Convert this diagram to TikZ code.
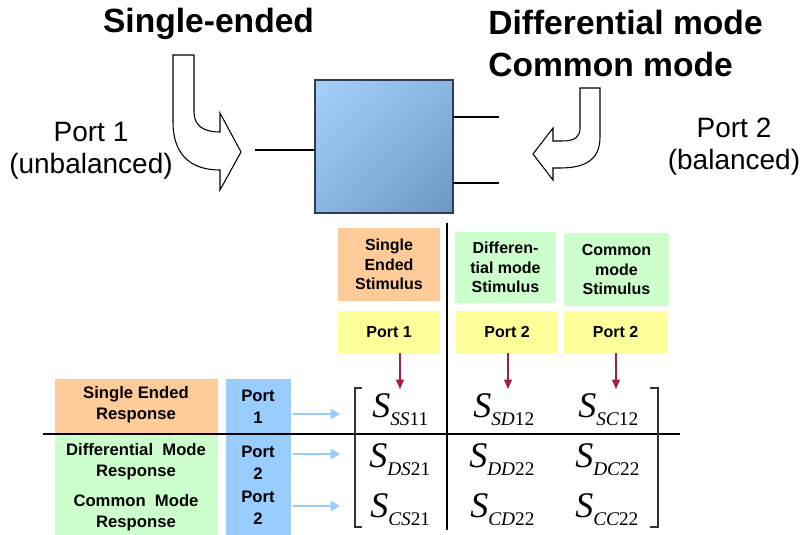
\documentclass[tikz,border=0pt]{standalone}
\usepackage{fontspec}
\setmainfont{Liberation Sans}
\newfontfamily\tnr{Liberation Serif}
\usetikzlibrary{arrows.meta,shadings}
\definecolor{orng}{HTML}{FFCC99}
\definecolor{grn}{HTML}{CCFFCC}
\definecolor{ylw}{HTML}{FFFF99}
\definecolor{blu}{HTML}{99CCFF}
\definecolor{redarr}{RGB}{165,30,75}
\definecolor{boxtl}{RGB}{165,208,250}
\definecolor{boxmid}{RGB}{138,182,228}
\definecolor{boxbr}{RGB}{108,150,196}
\definecolor{boxedge}{RGB}{50,60,80}
\newcommand\sparam[2]{{\tnr\fontsize{27}{27}\selectfont\itshape S}\raisebox{-6pt}{\tnr\fontsize{14.5}{14.5}\selectfont\itshape #1\upshape #2}}
\tikzset{
  headtext/.style={font=\bfseries\fontsize{25.2}{31.5}\selectfont, inner sep=0},
  porttext/.style={font=\fontsize{21}{24}\selectfont, align=center, inner sep=0},
  tbox/.style={inner sep=0, outer sep=0, align=center, font=\bfseries\fontsize{12}{14.6}\selectfont},
  ltext/.style={inner sep=0, align=center, font=\bfseries\fontsize{12.5}{15.5}\selectfont},
  ptext/.style={inner sep=0, align=center, font=\bfseries\fontsize{12.5}{16.5}\selectfont},
  wire/.style={line width=2pt, line cap=butt},
  bendarrow/.style={draw=black, fill=white, line width=0.8pt, line join=miter},
  rule/.style={line width=1pt},
  bracket/.style={line width=1.1pt, draw=black!80},
  redarrow/.style={draw=redarr, line width=0.8pt, -{Triangle[length=7pt,width=6pt]}},
  bluearrow/.style={draw=blu, line width=0.8pt, -{Triangle[length=7pt,width=8pt]}},
  entry/.style={anchor=base west, inner sep=0},
}
\begin{document}
\begin{tikzpicture}[x=0.75pt,y=-0.75pt]
\useasboundingbox (0,0) rectangle (800,535);

% headings
\node[headtext, anchor=base] (hse) at (208.5,33) {Single-ended};
\node[headtext, anchor=base west] (hdm) at (488,35) {Differential mode};
\node[headtext, anchor=base west] (hcm) at (488,77) {Common mode};
\node[porttext] (port1) at (91,151) {Port 1\\(unbalanced)};
\node[porttext] (port2) at (734,147) {Port 2\\(balanced)};

% DUT box
\node[draw=boxedge, line width=0.8pt, minimum width=103.5pt, minimum height=99.75pt, inner sep=0, outer sep=0,
      upper left=boxtl, upper right=boxmid, lower left=boxmid, lower right=boxbr] (dut) at (384,146.5) {};
\coordinate (l1) at (255,150);
\coordinate (r1) at (499,117);
\coordinate (r2) at (499,183);
\draw[wire] (l1) -- (l1 -| dut.west);
\draw[wire] (r1 -| dut.east) -- (r1);
\draw[wire] (r2 -| dut.east) -- (r2);

% bent arrows
\draw[bendarrow] (173,55) -- (194,55) -- (194,112) .. controls (194,126) and (204,132) .. (220,132)
  -- (220,113) -- (241,152) -- (220,190) -- (220,170) .. controls (188,170) and (173,152) .. (173,122) -- cycle;
\draw[bendarrow] (580,88) -- (600,88) -- (600,137) .. controls (600,160) and (585,168) .. (560,168) -- (553,168)
  -- (553,180) -- (533,154) -- (553,128) -- (553,141) -- (562,141) .. controls (575,141) and (580,137) .. (580,128) -- cycle;

% stimulus boxes
\node[tbox, fill=orng, minimum width=76.5pt, minimum height=54.75pt] (sse) at (389,264.5) {Single\\Ended\\Stimulus};
\node[tbox, fill=grn, minimum width=75.75pt, minimum height=53.25pt] (sdm) at (505.5,267.5) {Differen-\\tial mode\\Stimulus};
\node[tbox, fill=grn, minimum width=78.75pt, minimum height=54.75pt] (scm) at (616.5,269.5) {Common\\mode\\Stimulus};
\node[tbox, fill=ylw, minimum width=76.5pt, minimum height=31.5pt] (p1) at (389,332) {Port 1};
\node[tbox, fill=ylw, minimum width=76.5pt, minimum height=31.5pt] (p2) at (507,332) {Port 2};
\node[tbox, fill=ylw, minimum width=77.25pt, minimum height=31.5pt] (p3) at (615.5,332) {Port 2};

% response boxes
\node[tbox, fill=orng, minimum width=122.25pt, minimum height=41.25pt] (rse) at (136.5,406.5) {};
\node[tbox, fill=grn, minimum width=122.25pt, minimum height=75.75pt] (rgr) at (136.5,484.5) {};
\node[tbox, fill=blu, minimum width=48.75pt, minimum height=117pt] (bcol) at (258.5,457) {};
\node[ltext] (tse) at (136,404.5) {Single Ended\\Response};
\node[ltext] (tdm) at (136,462) {Differential\ \ Mode\\Response};
\node[ltext] (tcm) at (136,513) {Common\ \ Mode\\Response};
\node[ptext] (q1) at (258,407) {Port\\1};
\node[ptext] (q2) at (258,463) {Port\\2};
\node[ptext] (q3) at (258,508) {Port\\2};

% rules
\coordinate (vtop) at (447,223);
\coordinate (vbot) at (447,530);
\coordinate (hl) at (43,434);
\coordinate (hr) at (680,434);
\draw[rule] (vtop) -- (vbot);
\draw[rule] (hl) -- (hr);

% matrix entries
\node[entry] (m11) at (372,417) {\sparam{SS}{11}};
\node[entry] (m12) at (473,417) {\sparam{SD}{12}};
\node[entry] (m13) at (578,417) {\sparam{SC}{12}};
\node[entry] (m21) at (369,467) {\sparam{DS}{21}};
\node[entry] (m22) at (469,467) {\sparam{DD}{22}};
\node[entry] (m23) at (575,467) {\sparam{DC}{22}};
\node[entry] (m31) at (370,517) {\sparam{CS}{21}};
\node[entry] (m32) at (470,517) {\sparam{CD}{22}};
\node[entry] (m33) at (575,517) {\sparam{CC}{22}};

% brackets
\draw[bracket] (362,388) -- (355,388) -- (355,527) -- (362,527);
\draw[bracket] (650,388) -- (658,388) -- (658,527) -- (650,527);

% red arrows
\coordinate (a1) at (400,389);
\coordinate (a2) at (508,389);
\coordinate (a3) at (616,389);
\draw[redarrow] (p1.south -| a1) -- (a1);
\draw[redarrow] (p2.south -| a2) -- (a2);
\draw[redarrow] (p3.south -| a3) -- (a3);

% blue arrows
\coordinate (b1) at (340,414);
\coordinate (b2) at (340,454);
\coordinate (b3) at (340,506);
\draw[bluearrow] ([xshift=1.5pt]bcol.east |- b1) -- (b1);
\draw[bluearrow] ([xshift=1.5pt]bcol.east |- b2) -- (b2);
\draw[bluearrow] ([xshift=1.5pt]bcol.east |- b3) -- (b3);
\end{tikzpicture}
\end{document}
